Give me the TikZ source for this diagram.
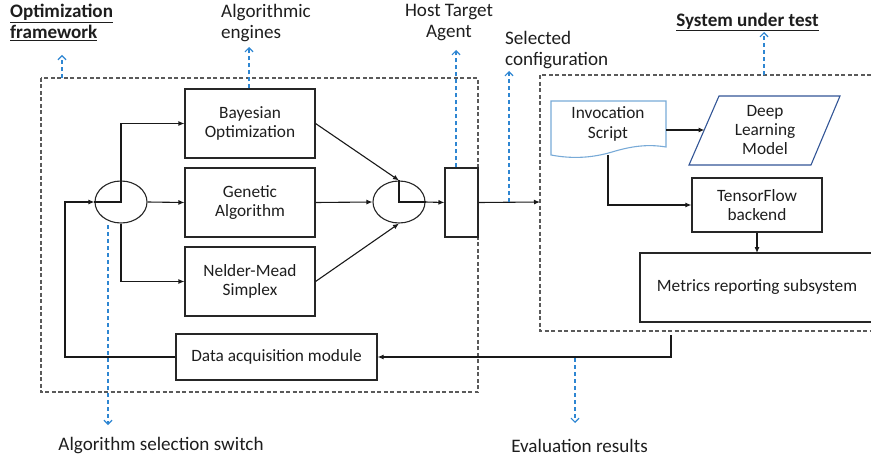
\documentclass[tikz,border=0pt]{standalone}
\usepackage{fontspec}
\setmainfont{Carlito}
\usetikzlibrary{arrows.meta,shapes.geometric}
\definecolor{lineblue}{RGB}{46,134,210}
\definecolor{framegray}{RGB}{90,90,90}
\definecolor{txt}{RGB}{30,30,30}
\definecolor{docblue}{RGB}{120,170,215}
\definecolor{parablue}{RGB}{50,85,150}
\newcommand\boxfont{\fontsize{17.3}{19.3}\selectfont}
\newcommand\lblfont{\fontsize{19.1}{21}\selectfont}
\begin{document}
\begin{tikzpicture}[x=1pt,y=-1pt,
  box/.style={draw=black!85, line width=1.1pt, align=center, font=\boxfont, text=txt, inner sep=0pt},
  plain/.style={align=center, font=\boxfont, text=txt, inner sep=0pt},
  lbl/.style={font=\lblfont, text=txt, inner sep=0pt},
  arr/.style={draw=black!90, line width=1.1pt, -{Latex[length=6pt,width=5pt]}},
  ln/.style={draw=black!90, line width=1.1pt},
  frame/.style={draw=framegray, line width=1.1pt, dash pattern=on 4pt off 2.5pt},
  bluearr/.style={draw=lineblue, line width=1.2pt, dash pattern=on 4pt off 3pt, -{Straight Barb[length=4pt,width=8pt]}},
  sw/.style={draw=black!85, line width=1.1pt, ellipse, minimum width=52pt, minimum height=42pt, inner sep=0pt}]
\useasboundingbox (0,0) rectangle (871,460);

% frames
\draw[frame] (41,78) rectangle (478,392);
\draw[frame] (871,75) -- (540,75) -- (540,331) -- (871,331);
\coordinate (sutin) at (540,202);
\coordinate (ftop) at (62,78);
\coordinate (suttop) at (764,75);

% left part
\node[box, minimum width=130pt, minimum height=69pt] (bo) at (250,123.5) {Bayesian\\Optimization};
\node[box, minimum width=130pt, minimum height=69pt] (ga) at (250,202.5) {Genetic\\Algorithm};
\node[box, minimum width=130pt, minimum height=69pt] (nm) at (250,281.5) {Nelder-Mead\\Simplex};
\node[box, minimum width=201pt, minimum height=46pt] (dam) at (276.5,357) {Data acquisition module};
\node[sw] (e1) at (121,202) {};
\node[sw] (e2) at (399,202) {};
\node[box, minimum width=33pt, minimum height=69pt] (host) at (461.5,202.5) {};

\coordinate (lp) at (65,202);
\draw[arr] (dam.west) -| (lp) -- (e1.west);
\draw[ln] (e1.west) -- (e1.center) -- (e1.north);
\draw[arr] (e1.north) |- (bo.west);
\draw[arr] (e1.south) |- (nm.west);
\draw[arr] (e1.east) -- (ga.west);
\draw[arr] (bo.east) -- (e2.north);
\draw[arr] (ga.east) -- (e2.west);
\draw[arr] (nm.east) -- (e2.south);
\draw[ln] (e2.north) -- (e2.center) -- (e2.east);
\draw[arr] (e2.east) -- (host.west);
\draw[arr] (host.east) -- (sutin);

% right part
\draw[draw=docblue, line width=1.1pt] (551,101) -- (666,101) -- (666,147)
  .. controls (648,144) and (632,146) .. (612,152)
  .. controls (592,158) and (572,159) .. (551,155) -- cycle;
\node[plain] (inv) at (608,124) {Invocation\\Script};
\coordinate (invr) at (666,130);
\coordinate (invb) at (608,155);
\draw[draw=parablue, line width=1.1pt] (719,96) -- (840,96) -- (811,165) -- (689,165) -- cycle;
\node[plain] (dl) at (765,130) {Deep\\Learning\\Model};
\coordinate (dlw) at (704.5,130);
\node[box, minimum width=130pt, minimum height=54pt] (tf) at (757,205) {TensorFlow\\backend};
\draw[draw=black!85, line width=1.1pt] (871,253) -- (640,253) -- (640,322) -- (871,322);
\coordinate (mtop) at (757,253);
\node[plain] (mr) at (757,287) {Metrics reporting subsystem};

\draw[arr] (invr) -- (dlw);
\draw[arr] (invb) |- (tf.west);
\draw[arr] (tf.south) -- (mtop);
\coordinate (fb) at (671,335);
\draw[arr] (fb) |- (dam.east);

% blue callouts
\coordinate (t1) at (62,55);
\coordinate (t2) at (249,47);
\coordinate (t3) at (456,50);
\coordinate (s4) at (509,202);
\coordinate (t4) at (509,71);
\coordinate (t5) at (764,32);
\coordinate (s6) at (108,225);
\coordinate (t6) at (108,425);
\coordinate (s7) at (575,358);
\coordinate (t7) at (575,423);
\draw[bluearr] (ftop) -- (t1);
\draw[bluearr] (bo.north -| t2) -- (t2);
\draw[bluearr] (host.north -| t3) -- (t3);
\draw[bluearr] (s4) -- (t4);
\draw[bluearr] (suttop) -- (t5);
\draw[bluearr] (s6) -- (t6);
\draw[bluearr] (s7) -- (t7);

% labels
\node[lbl, anchor=north west, align=left, font=\lblfont\bfseries] (of) at (10,4) {\underline{Optimization}\\\underline{framework}};
\node[lbl, anchor=west, align=left] (ae) at (221,23) {Algorithmic\\engines};
\node[lbl, align=center] (hta) at (449,23) {Host Target\\Agent};
\node[lbl, anchor=west, align=left] (sc) at (505,50) {Selected\\configuration};
\node[lbl, font=\lblfont\bfseries] (sut) at (747.5,22) {\underline{System under test}};
\node[lbl] (ass) at (161,446) {Algorithm selection switch};
\node[lbl] (er) at (579.5,446) {Evaluation results};
\end{tikzpicture}
\end{document}
